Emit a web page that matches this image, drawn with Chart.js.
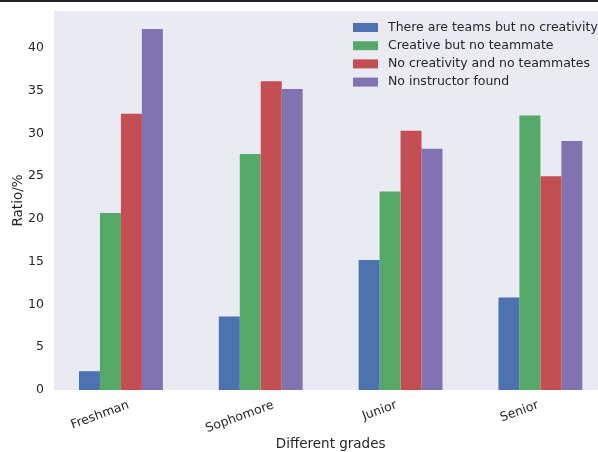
<!DOCTYPE html>
<html lang="en">
<head>
  <meta charset="UTF-8">
  <title>Different grades</title>
  <script src="https://cdn.jsdelivr.net/npm/chart.js"></script>
  <style>
    html, body { margin: 0; padding: 0; background: #fff; overflow: hidden; }
    .frame { width: 598px; height: 450px; border-top: 2px solid #222; }
    canvas { display: block; }
  </style>
</head>
<body>
  <div class="frame">
    <canvas id="gradeChart" width="598" height="450"></canvas>
  </div>

  <script>
    // Data
    const grades = ['Freshman', 'Sophomore', 'Junior', 'Senior'];
    const teamsNoCreativity = [2.2, 8.6, 15.2, 10.8];
    const creativeNoTeammate = [20.7, 27.6, 23.2, 32.1];
    const noCreativityNoTeammates = [32.3, 36.1, 30.3, 25.0];
    const noInstructor = [42.2, 35.2, 28.2, 29.1];
    const yTicks = [0, 5, 10, 15, 20, 25, 30, 35, 40];

    const seriesNames = [
      'There are teams but no creativity',
      'Creative but no teammate',
      'No creativity and no teammates',
      'No instructor found'
    ];
    const seriesColors = ['#4C72B0', '#55A868', '#C44E52', '#8172B2'];
    const seriesValues = [teamsNoCreativity, creativeNoTeammate, noCreativityNoTeammates, noInstructor];

    const textColor = '#262626';
    const fontFamily = '"DejaVu Sans", sans-serif';
    const tickFont = '12.5px ' + fontFamily;
    const labelRotation = 20 * Math.PI / 180;

    // grey plot background, like seaborn
    const plotBackground = {
      id: 'plotBackground',
      beforeDatasetsDraw(chart) {
        const { ctx, chartArea } = chart;
        ctx.save();
        ctx.fillStyle = '#EAEAF2';
        ctx.fillRect(chartArea.left, chartArea.top, chartArea.right - chartArea.left, chartArea.bottom - chartArea.top);
        ctx.restore();
      }
    };

    // legend drawn inside the plot, top right, no frame
    const innerLegend = {
      id: 'innerLegend',
      afterDatasetsDraw(chart) {
        const { ctx } = chart;
        ctx.save();
        ctx.font = tickFont;
        ctx.textBaseline = 'middle';
        ctx.textAlign = 'left';
        chart.data.datasets.forEach((ds, i) => {
          const y = 25.5 + i * 18.2;
          ctx.fillStyle = ds.backgroundColor;
          ctx.fillRect(353, y - 4.5, 25, 9);
          ctx.fillStyle = textColor;
          ctx.fillText(ds.label, 388, y);
        });
        ctx.restore();
      }
    };

    // x labels centred (rotated) under the blue/green edge of each group, plus axis title
    const gradeLabels = {
      id: 'gradeLabels',
      afterDraw(chart) {
        const { ctx } = chart;
        const x = chart.scales.x;
        const top = chart.chartArea.bottom + 8;
        ctx.save();
        ctx.fillStyle = textColor;
        ctx.font = tickFont;
        ctx.textAlign = 'center';
        ctx.textBaseline = 'middle';
        grades.forEach((g, i) => {
          const w = ctx.measureText(g).width;
          const h = 14.5;
          const cy = top + (w * Math.sin(labelRotation) + h * Math.cos(labelRotation)) / 2;
          ctx.save();
          ctx.translate(x.getPixelForValue(i - 0.15), cy);
          ctx.rotate(-labelRotation);
          ctx.fillText(g, 0, 0);
          ctx.restore();
        });
        ctx.font = '13.5px ' + fontFamily;
        ctx.textBaseline = 'alphabetic';
        ctx.fillText('Different grades', x.getPixelForValue(1.5), 446);
        ctx.restore();
      }
    };

    const datasets = seriesNames.map((name, i) => ({
      label: name,
      data: seriesValues[i].map((v, j) => ({ x: j, y: v })),
      backgroundColor: seriesColors[i],
      borderWidth: 0,
      categoryPercentage: 0.6,
      barPercentage: 1.0
    }));

    const noEdgePadding = scale => {
      scale.paddingTop = 0;
      scale.paddingBottom = 0;
      scale.paddingLeft = 0;
      scale.paddingRight = 0;
    };

    new Chart(document.getElementById('gradeChart'), {
      type: 'bar',
      data: { datasets },
      options: {
        responsive: false,
        animation: false,
        layout: { padding: { top: 9, right: 0, bottom: 0, left: 0 } },
        plugins: {
          legend: { display: false },
          tooltip: { enabled: false }
        },
        scales: {
          x: {
            type: 'linear',
            offset: false,
            min: -0.4786,
            max: 3.412,
            grid: { display: false, drawTicks: false, offset: false },
            border: { display: false },
            afterBuildTicks: scale => { scale.ticks = grades.map((g, i) => ({ value: i })); },
            afterFit: scale => { scale.height = 62; noEdgePadding(scale); },
            ticks: { display: false }
          },
          y: {
            min: 0,
            max: 44.31,
            grid: { display: false, drawTicks: false },
            border: { display: false },
            afterBuildTicks: scale => { scale.ticks = yTicks.map(v => ({ value: v })); },
            afterFit: scale => { scale.width = 54; noEdgePadding(scale); },
            ticks: {
              padding: 10,
              color: textColor,
              font: { family: fontFamily, size: 12.5 }
            },
            title: {
              display: true,
              text: 'Ratio/%',
              color: textColor,
              font: { family: fontFamily, size: 13.5 },
              padding: { top: 10, bottom: 0 }
            }
          }
        }
      },
      plugins: [plotBackground, innerLegend, gradeLabels]
    });
  </script>
</body>
</html>
